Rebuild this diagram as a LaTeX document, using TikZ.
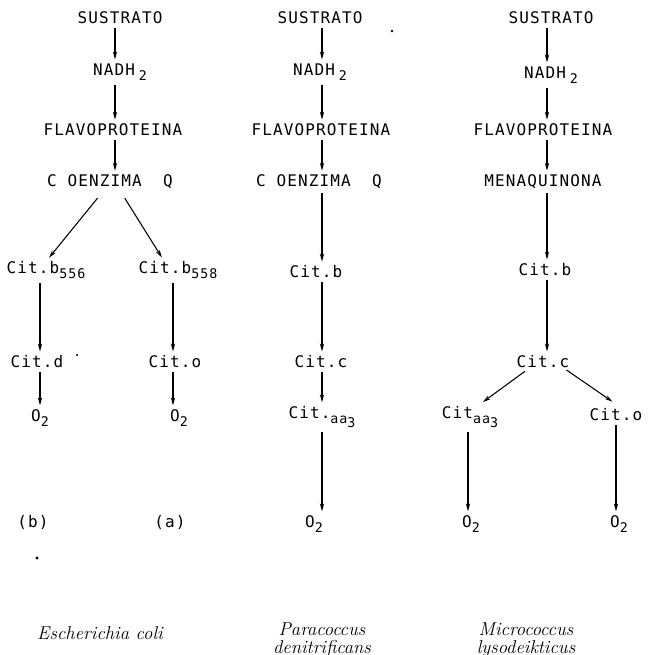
\documentclass[tikz,border=0pt]{standalone}
\usepackage{fontspec}
\setmonofont{DejaVu Sans Mono}[LetterSpace=7]
\usetikzlibrary{arrows.meta}
\newcommand\twfont{\fontsize{12}{14}\selectfont\ttfamily}
\newcommand\lowsub[2][0.55ex]{\raisebox{-#1}{\fontsize{10}{10}\selectfont\ttfamily #2}}
\newcommand\spfont{\fontsize{14}{13}\selectfont\itshape}
\begin{document}
\begin{tikzpicture}[x=0.75pt,y=-0.75pt,
  lbl/.style={font=\twfont, inner sep=1pt},
  spc/.style={font=\spfont, inner sep=0pt, align=center},
  arr/.style={-{Stealth[length=6pt,width=3.2pt]}, line width=0.8pt, shorten <=2pt, shorten >=2pt},
  speck/.style={fill=black}]
\useasboundingbox (0,0) rectangle (648,655);
% column guide coordinates
\coordinate (xa) at (115,0);
\coordinate (xl) at (40,0);
\coordinate (xr) at (173,0);
\coordinate (xb) at (322,0);
\coordinate (xc) at (547,0);
\coordinate (xcl) at (468,0);
\coordinate (xcr) at (616,0);

% ---------------- Escherichia coli ----------------
\node[lbl] (s1) at (120,18) {SUSTRATO};
\node[lbl] (n1) at (120,72) {NADH\hspace{3pt}\lowsub{2}};
\node[lbl] (f1) at (113,130) {FLAVOPROTEINA};
\node[lbl] (c1) at (110,182) {C OENZIMA\ \ Q};
\node[lbl] (b1) at (46,270) {Cit.b\lowsub{556}};
\node[lbl] (b1r) at (178,270) {Cit.b\lowsub{558}};
\node[lbl] (d1) at (37,362) {Cit.d};
\node[lbl] (o1) at (175,362) {Cit.o};
\node[lbl] (ox1) at (40,418) {O\lowsub{2}};
\node[lbl] (ox1r) at (179,418) {O\lowsub{2}};
\node[lbl] (lb) at (33,522) {(b)};
\node[lbl] (la) at (170,522) {(a)};
\node[spc] (sp1) at (100,633) {Escherichia coli};

\draw[arr] (s1.south -| xa) -- (n1.north -| xa);
\draw[arr] (n1.south -| xa) -- (f1.north -| xa);
\draw[arr] (f1.south -| xa) -- (c1.north -| xa);
\draw[arr] ([xshift=-8pt,yshift=-4pt]c1.south) -- ([xshift=1pt]b1.north);
\draw[arr] ([xshift=10pt,yshift=-4pt]c1.south) -- ([xshift=-11pt]b1r.north);
\draw[arr] (b1.south -| xl) -- (d1.north -| xl);
\draw[arr] (d1.south -| xl) -- (ox1.north -| xl);
\draw[arr] (b1r.south -| xr) -- (o1.north -| xr);
\draw[arr] (o1.south -| xr) -- (ox1r.north -| xr);

% ---------------- Paracoccus denitrificans ----------------
\node[lbl] (s2) at (320,18) {SUSTRATO};
\node[lbl] (n2) at (320,72) {NADH\hspace{3pt}\lowsub{2}};
\node[lbl] (f2) at (321,130) {FLAVOPROTEINA};
\node[lbl] (c2) at (319,182) {C OENZIMA\ \ Q};
\node[lbl] (b2) at (316,272) {Cit.b};
\node[lbl] (cc2) at (321,362) {Cit.c};
\node[lbl] (aa2) at (322,417) {Cit.\lowsub{aa\lowsub[0.5ex]{3}}};
\node[lbl] (ox2) at (314,524) {O\lowsub{2}};
\node[spc] (sp2) at (322,640) {Paracoccus\\denitrificans};

\draw[arr] (s2.south -| xb) -- (n2.north -| xb);
\draw[arr] (n2.south -| xb) -- (f2.north -| xb);
\draw[arr] (f2.south -| xb) -- (c2.north -| xb);
\draw[arr] (c2.south -| xb) -- (b2.north -| xb);
\draw[arr] (b2.south -| xb) -- (cc2.north -| xb);
\draw[arr] (cc2.south -| xb) -- (aa2.north -| xb);
\draw[arr] (aa2.south -| xb) -- (ox2.north -| xb);

% ---------------- Micrococcus lysodeikticus ----------------
\node[lbl] (s3) at (551,18) {SUSTRATO};
\node[lbl] (n3) at (551,75) {NADH\hspace{3pt}\lowsub{2}};
\node[lbl] (f3) at (543,130) {FLAVOPROTEINA};
\node[lbl] (m3) at (543,182) {MENAQUINONA};
\node[lbl] (b3) at (545,270) {Cit.b};
\node[lbl] (c3) at (543,362) {Cit.c};
\node[lbl] (aa3) at (470,417) {Cit\lowsub{aa\lowsub[0.5ex]{3}}};
\node[lbl] (o3) at (616,415) {Cit.o};
\node[lbl] (ox3) at (471,524) {O\lowsub{2}};
\node[lbl] (ox3r) at (619,524) {O\lowsub{2}};
\node[spc] (sp3) at (526,640) {Micrococcus\\lysodeikticus};

\draw[arr] (s3.south -| xc) -- (n3.north -| xc);
\draw[arr] (n3.south -| xc) -- (f3.north -| xc);
\draw[arr] (f3.south -| xc) -- (m3.north -| xc);
\draw[arr] (m3.south -| xc) -- (b3.north -| xc);
\draw[arr] (b3.south -| xc) -- (c3.north -| xc);
\draw[arr] ([xshift=-12pt]c3.south) -- ([xshift=8pt,yshift=1pt]aa3.north);
\draw[arr] ([xshift=-5pt,yshift=1pt]c3.south east) -- ([xshift=-1pt,yshift=3pt]o3.north);
\draw[arr] (aa3.south -| xcl) -- (ox3.north -| xcl);
\draw[arr] (o3.south -| xcr) -- (ox3r.north -| xcr);

% specks of the original
\fill[speck] (37,558) circle (1.3pt);
\fill[speck] (392,31) circle (1.1pt);
\fill[speck] (77,355) circle (0.9pt);
\end{tikzpicture}
\end{document}
